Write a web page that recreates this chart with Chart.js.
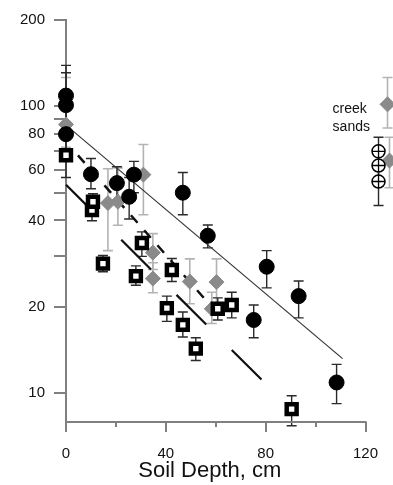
<!DOCTYPE html>
<html>
<head>
<meta charset="utf-8">
<script src="https://cdn.jsdelivr.net/npm/chart.js@4.4.1/dist/chart.umd.min.js"></script>
<style>
html, body { margin: 0; padding: 0; background: #fff; }
#wrap { width: 393px; height: 485px; position: relative; }
</style>
</head>
<body>
<div id="wrap"><canvas id="myChart"></canvas></div>
<script>
// black circles
var circleDepth = [0, 0, 0, 10, 20.4, 25.3, 27.2, 46.8, 56.8, 75.2, 80.4, 93.2, 108.4];
var circleVal   = [109, 101, 80, 58, 54, 48.4, 57.8, 50, 35.4, 18.0, 27.6, 21.8, 10.9];
var circleLo    = [88, 84, 66, 51.6, 47, 40.5, 50, 41.9, 32.1, 15.6, 23.3, 18.3, 9.2];
var circleHi    = [139, 131, 105, 65.8, 61.6, 56.5, 64.3, 58.8, 38.6, 20.3, 31.4, 24.6, 12.6];

// grey diamonds
var diamondDepth = [0, 16.8, 20.8, 31, 34.8, 34.8, 49.6, 60.3, 58.4];
var diamondVal   = [86.5, 46, 46.5, 57.8, 30.9, 25.1, 24.5, 24.4, 19.7];
var diamondLo    = [72, 31.4, 38.5, 41.9, 27, 22.4, 20.5, 20.5, 17.5];
var diamondHi    = [126, 60.6, 61, 73.6, 36, 28.5, 29.4, 29.4, 22.5];

// black squares
var squareDepth = [0, 10.4, 10.8, 14.8, 28, 30.4, 42.4, 40.4, 46.8, 52, 60.8, 66.4, 90.4];
var squareVal   = [67.5, 43.5, 46.5, 28.3, 25.6, 33.4, 26.9, 19.8, 17.3, 14.3, 19.7, 20.3, 8.8];
var squareLo    = [56.5, 39.9, 42, 26.5, 23.8, 30, 24.5, 17.8, 15.7, 13, 18, 18.3, 7.7];
var squareHi    = [77, 47, 49.6, 30.2, 27.8, 36.5, 29.5, 21.8, 19.2, 15.6, 21.5, 22.5, 9.8];

// creek sands
var creekCircleDepth = [125.2, 125.2, 125.2];
var creekCircleVal   = [69.7, 62.2, 54.7];
var creekCircleLo    = [62, 55, 45.1];
var creekCircleHi    = [78, 70, 62];
var creekDiamondDepth = [128.8, 129.6];
var creekDiamondVal   = [101.6, 64.7];
var creekDiamondLo    = [84, 52];
var creekDiamondHi    = [126, 78];

// fitted lines
var fitSolidX = [0, 110.8];
var fitSolidY = [86, 13.2];
var fitDashX = [4.8, 55.6];
var fitDashY = [67.5, 21.3];
var fitLongX = [0, 80.4];
var fitLongY = [53.3, 10.7];

var xTicks = [0, 20, 40, 60, 80, 100, 120];
var xLabels = [0, 40, 80, 120];
var yTicks = [10, 20, 30, 40, 50, 60, 70, 80, 90, 100, 200];
var yLabels = [10, 20, 40, 60, 80, 100, 200];

var fontFamily = '"Liberation Sans", Arial, sans-serif';

function toPoints(xs, ys) {
    return xs.map(function (x, i) { return { x: x, y: ys[i] }; });
}

var errorGroups = [
    { x: diamondDepth, lo: diamondLo, hi: diamondHi, color: '#b3b3b3', width: 1.6 },
    { x: creekDiamondDepth, lo: creekDiamondLo, hi: creekDiamondHi, color: '#b3b3b3', width: 1.6 },
    { x: circleDepth, lo: circleLo, hi: circleHi, color: '#2a2a2a', width: 1.4 },
    { x: squareDepth, lo: squareLo, hi: squareHi, color: '#2a2a2a', width: 1.4 },
    { x: creekCircleDepth, lo: creekCircleLo, hi: creekCircleHi, color: '#2a2a2a', width: 1.4 }
];

var sketchPlugin = {
    id: 'sketch',
    beforeDatasetsDraw: function (chart) {
        var c = chart.ctx, xs = chart.scales.x, ys = chart.scales.y;
        c.save();
        errorGroups.forEach(function (g) {
            c.strokeStyle = g.color;
            c.lineWidth = g.width;
            g.x.forEach(function (x, i) {
                var px = xs.getPixelForValue(x);
                var top = ys.getPixelForValue(g.hi[i]);
                var bot = ys.getPixelForValue(g.lo[i]);
                c.beginPath();
                c.moveTo(px, top); c.lineTo(px, bot);
                c.moveTo(px - 5, top); c.lineTo(px + 5, top);
                c.moveTo(px - 5, bot); c.lineTo(px + 5, bot);
                c.stroke();
            });
        });
        c.restore();
    },
    afterDraw: function (chart) {
        var c = chart.ctx, xs = chart.scales.x, ys = chart.scales.y;
        var y0 = chart.chartArea.bottom + 1;
        c.save();
        // x axis stops at 120
        c.strokeStyle = '#808080';
        c.lineWidth = 2;
        c.beginPath();
        c.moveTo(xs.getPixelForValue(0) - 1, y0);
        c.lineTo(xs.getPixelForValue(120) + 1, y0);
        xTicks.forEach(function (t) {
            var px = Math.round(xs.getPixelForValue(t));
            var len = xLabels.indexOf(t) >= 0 ? 10 : 5;
            c.moveTo(px, y0);
            c.lineTo(px, y0 + len);
        });
        c.stroke();

        c.fillStyle = '#111';
        c.textAlign = 'center';
        c.textBaseline = 'middle';
        c.font = '22px ' + fontFamily;
        c.fillText('Soil Depth, cm', (xs.getPixelForValue(0) + xs.getPixelForValue(120)) / 2 - 6, chart.chartArea.bottom + 50);

        c.textAlign = 'left';
        c.font = '14px ' + fontFamily;
        var lx = xs.getPixelForValue(106.8);
        var ly = ys.getPixelForValue(98);
        c.fillText('creek', lx, ly);
        c.fillText('sands', lx, ly + 18);
        c.restore();
    }
};

var ctx = document.getElementById('myChart').getContext('2d');
var myChart = new Chart(ctx, {
    type: 'scatter',
    data: {
        datasets: [
            {
                label: 'circles',
                data: toPoints(circleDepth, circleVal),
                pointStyle: 'circle',
                pointRadius: 7.5,
                backgroundColor: '#000',
                borderColor: '#000',
                borderWidth: 1,
                clip: false
            },
            {
                label: 'squares',
                data: toPoints(squareDepth, squareVal),
                pointStyle: 'rect',
                pointRadius: 7,
                backgroundColor: '#fff',
                borderColor: '#000',
                borderWidth: 4.5,
                clip: false
            },
            {
                label: 'diamonds',
                data: toPoints(diamondDepth, diamondVal),
                pointStyle: 'rectRot',
                pointRadius: 7.5,
                backgroundColor: '#8a8a8a',
                borderColor: '#8a8a8a',
                borderWidth: 1,
                clip: false
            },
            {
                label: 'creek cross',
                data: toPoints(creekCircleDepth, creekCircleVal),
                pointStyle: 'cross',
                pointRadius: 6.5,
                borderColor: '#000',
                borderWidth: 1.3,
                clip: false
            },
            {
                label: 'creek circles',
                data: toPoints(creekCircleDepth, creekCircleVal),
                pointStyle: 'circle',
                pointRadius: 6.5,
                backgroundColor: '#fff',
                borderColor: '#000',
                borderWidth: 1.5,
                clip: false
            },
            {
                label: 'creek diamonds',
                data: toPoints(creekDiamondDepth, creekDiamondVal),
                pointStyle: 'rectRot',
                pointRadius: 7.5,
                backgroundColor: '#8a8a8a',
                borderColor: '#8a8a8a',
                borderWidth: 1,
                clip: false
            },
            {
                label: 'fit circles',
                data: toPoints(fitSolidX, fitSolidY),
                showLine: true,
                pointRadius: 0,
                borderColor: '#333',
                borderWidth: 1.2,
                clip: false
            },
            {
                label: 'fit diamonds',
                data: toPoints(fitDashX, fitDashY),
                showLine: true,
                pointRadius: 0,
                borderColor: '#111',
                borderWidth: 2.5,
                borderDash: [10, 10],
                clip: false
            },
            {
                label: 'fit squares',
                data: toPoints(fitLongX, fitLongY),
                showLine: true,
                pointRadius: 0,
                borderColor: '#111',
                borderWidth: 2.2,
                borderDash: [42, 36],
                clip: false
            }
        ]
    },
    options: {
        responsive: true,
        maintainAspectRatio: false,
        animation: false,
        events: [],
        layout: {
            autoPadding: false,
            padding: { left: 0, right: 0, top: 20, bottom: 0 }
        },
        scales: {
            x: {
                type: 'linear',
                min: 0,
                max: 131,
                afterBuildTicks: function (scale) {
                    scale.ticks = xTicks.map(function (v) { return { value: v }; });
                },
                afterFit: function (scale) {
                    scale.height = 64;
                    scale.paddingLeft = 0;
                    scale.paddingRight = 0;
                },
                ticks: {
                    autoSkip: false,
                    maxRotation: 0,
                    padding: 14,
                    color: '#111',
                    font: { size: 15, family: fontFamily },
                    callback: function (v) { return xLabels.indexOf(v) >= 0 ? String(v) : ''; }
                },
                grid: { display: false, drawTicks: true, tickLength: 10 },
                border: { display: false }
            },
            y: {
                type: 'logarithmic',
                min: 8,
                max: 200,
                afterBuildTicks: function (scale) {
                    scale.ticks = yTicks.map(function (v) { return { value: v }; });
                },
                afterFit: function (scale) {
                    scale.width = 66;
                    scale.paddingTop = 0;
                    scale.paddingBottom = 0;
                },
                ticks: {
                    autoSkip: false,
                    padding: 9,
                    color: '#111',
                    font: { size: 15, family: fontFamily },
                    callback: function (v) { return yLabels.indexOf(v) >= 0 ? String(v) : ''; }
                },
                grid: {
                    display: true,
                    drawOnChartArea: false,
                    drawTicks: true,
                    tickLength: 12,
                    color: '#808080',
                    lineWidth: 2
                },
                border: { display: true, color: '#808080', width: 2 }
            }
        },
        plugins: {
            legend: { display: false },
            tooltip: { enabled: false },
            title: { display: false }
        }
    },
    plugins: [sketchPlugin]
});
</script>
</body>
</html>
